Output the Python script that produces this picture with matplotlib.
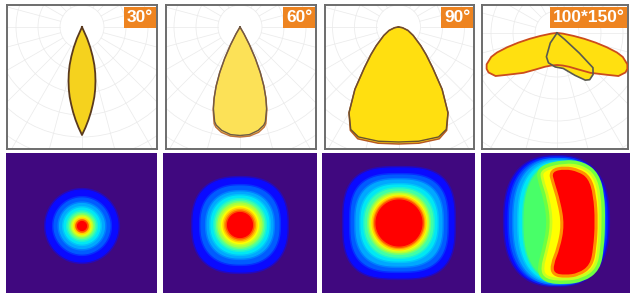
import numpy as np
import matplotlib
matplotlib.use("Agg")
import matplotlib.pyplot as plt
from matplotlib.patches import Circle, Polygon, PathPatch
from matplotlib.path import Path

plt.rcParams['font.family'] = ['Liberation Sans', 'DejaVu Sans']

beam_labels = ['30°', '60°', '90°', '100*150°']

# polar intensity curves: angle from nadir (deg) -> radius in drawing px
c1_angles = [0, 2, 4, 6, 8, 10, 12, 14, 16, 18, 20, 22, 24, 26]
c1_r = [108, 100.5, 93, 85.5, 78, 71, 63.5, 55.7, 48, 40, 31, 22, 12.5, 0]

c2_angles = [0, 5, 10, 13.6, 15, 18, 20, 22, 24, 26, 28, 30, 32]
c2_r_a = [110, 109.5, 107, 103, 100, 87, 76, 64, 50, 35, 20, 8, 0]
c2_r_b = [108.5, 108, 105, 101, 98, 86, 75.5, 63.5, 50, 35, 20, 8, 0]

c3_angles = [0, 10, 20, 25, 30, 35, 40, 45, 50, 60, 70, 80, 90]
c3_r_a = [117, 118, 119, 114, 99, 76, 53, 39, 29, 17, 10, 4, 0]
c3_r_b = [115, 116, 117, 113, 99, 76, 53, 39, 29, 17, 10, 4, 0]

c4_angles = [0, 10, 20, 30, 40, 50, 55, 60, 63, 66, 70, 72, 74, 76, 78, 80, 84, 88, 90]
c4_r_c0 = [32, 33, 36, 42, 52, 65, 75, 79, 79, 77, 70, 63, 52, 40, 28, 17, 6, 1, 0]
# C90 plane, signed angles (lobe leans to the right)
c4_angles_c90 = [-40, -34, -24, -16, -3, 10, 23, 31, 35, 41, 46, 48, 50, 52]
c4_r_c90 = [0, 12, 26, 31, 34, 36, 46, 55, 57, 55, 50, 30, 10, 0]

# illuminance bands, outer -> inner
band_colors = ['#0a0aff', '#005cff', '#00a8ff', '#00e8f4', '#40ffa8',
               '#a8ff40', '#ffff00', '#ff9a00', '#ff0000']
spot1_radii = [36, 28, 22.5, 18, 14, 11, 8.5, 6.5, 4.5]
spot2_radii = [47, 39, 33, 29, 25, 22, 18.5, 15.5, 12.5]
spot3_radii = [55, 48, 43, 38, 34, 30, 27.5, 25.5, 23]
spot1_square = [2.0, 2.0, 2.0, 2.0, 2.0, 2.0, 2.0, 2.0, 2.0]
spot2_square = [2.5, 2.4, 2.3, 2.2, 2.1, 2.0, 2.0, 2.0, 2.0]
spot3_square = [3.0, 2.9, 2.7, 2.5, 2.3, 2.2, 2.1, 2.0, 2.0]

# 100*150 spot: outer rings (left, right, top, bottom) and inner outlines
ring_colors = ['#0a0aff', '#005cff', '#00a8ff', '#00e8f4', '#48ff68']
ring_left = [-50, -45.5, -41, -36, -31]
ring_right = [53, 50.5, 48, 46.5, 45.5]
ring_top = [66, 64.5, 63, 61, 59]
ring_bottom = [-62, -61, -60, -58.5, -57]
yellow_outline = [(-11.7, 52), (10, 57.3), (26.7, 55.3), (38.3, 46.3), (43.3, 28),
                  (44, 1.3), (42.7, -25.3), (39.3, -43.7), (26.7, -52.7), (10, -55.3),
                  (-8.3, -53.7), (-11.7, -45.3), (-7, -28.7), (-1.5, -2), (-5, 24.7),
                  (-11.7, 44.7)]
red_outline = [(-3.3, 51.3), (10, 54), (23.3, 51.3), (33.3, 44.7), (38.3, 28),
               (40, 1.3), (38.3, -25.3), (35, -42), (23.3, -50.3), (10, -52),
               (-0.7, -50.3), (-1.7, -42), (5, -25.3), (9.5, -2), (5.5, 21.3),
               (-0.7, 41.3)]

W, H = 630, 293
fig = plt.figure(figsize=(W / 100, H / 100), dpi=100)
fig.patch.set_facecolor('white')


def px_axes(left, top, width, height):
    return fig.add_axes([left / W, 1 - (top + height) / H, width / W, height / H])


def lobe_xy(angles, radii, mirror=True):
    a = np.radians(angles)
    r = np.asarray(radii, float)
    if mirror:
        a = np.concatenate([-a[::-1], a[1:]])
        r = np.concatenate([r[::-1], r[1:]])
    return r * np.sin(a), -r * np.cos(a)


def blob(cx, cy, hx, hy, n, num=160):
    t = np.linspace(0, 2 * np.pi, num)
    c, s = np.cos(t), np.sin(t)
    x = cx + hx * np.sign(c) * np.abs(c) ** (2 / n)
    y = cy + hy * np.sign(s) * np.abs(s) ** (2 / n)
    return np.column_stack([x, y])


def smooth_patch(pts, **kw):
    pts = np.asarray(pts, float)
    mids = (pts + np.roll(pts, -1, axis=0)) / 2
    verts = [mids[-1]]
    codes = [Path.MOVETO]
    for p, m in zip(pts, mids):
        verts += [p, m]
        codes += [Path.CURVE3, Path.CURVE3]
    verts.append(mids[-1])
    codes.append(Path.CLOSEPOLY)
    return PathPatch(Path(verts, codes), **kw)


def soft_band(ax, verts, col):
    # soft outer rim, then the solid band
    ax.add_patch(Polygon(verts, closed=True, fc='none', ec=col, lw=3.0, alpha=0.45))
    ax.add_patch(Polygon(verts, closed=True, fc=col, ec=col, lw=0.8))


# ---- top row: polar diagrams ----
top_left = [7, 166, 325, 482]
top_width = [150, 150, 149, 146]
src_x = [82, 240, 398.5, 557]
src_y = [27, 27, 27, 33]
box_top, box_h = 5, 144

polar_axes = []
for i in range(4):
    ax = px_axes(top_left[i], box_top, top_width[i], box_h)
    ax.set_xlim(top_left[i] - src_x[i], top_left[i] + top_width[i] - src_x[i])
    ax.set_ylim(-(box_top + box_h - src_y[i]), src_y[i] - box_top)
    ax.set_xticks([])
    ax.set_yticks([])
    for sp in ax.spines.values():
        sp.set_color('#6c6c6c')
        sp.set_linewidth(1.4)
    for rad in range(22, 200, 22):
        ax.add_patch(Circle((0, 0), rad, fill=False, ec='#ebebeb', lw=0.55, zorder=1))
    for a in np.radians(np.arange(0, 360, 15)):
        ax.plot([22 * np.sin(a), 220 * np.sin(a)], [22 * np.cos(a), 220 * np.cos(a)],
                color='#ebebeb', lw=0.55, zorder=1)
    ax.annotate(beam_labels[i], xy=(1, 1), xycoords='axes fraction',
                xytext=(-2.6, -3.4), textcoords='offset points',
                ha='right', va='top', color='white', fontsize=12.5, fontweight='bold',
                bbox=dict(boxstyle='square,pad=0.16', fc='#ee8420', ec='none'), zorder=5)
    polar_axes.append(ax)


def closed_line(ax, x, y, color, lw):
    ax.plot(np.append(x, x[0]), np.append(y, y[0]), color=color, lw=lw, zorder=3)


ax = polar_axes[0]
x, y = lobe_xy(c1_angles, c1_r)
ax.fill(x, y, color='#f5d21e', zorder=2, lw=0)
closed_line(ax, x, y, '#5a3a1e', 1.3)

ax = polar_axes[1]
xa, ya = lobe_xy(c2_angles, c2_r_a)
xb, yb = lobe_xy(c2_angles, c2_r_b)
ax.fill(xa, ya, color='#fce157', zorder=2, lw=0)
closed_line(ax, xa, ya, '#c0703a', 1.0)
closed_line(ax, xb, yb, '#6e5a46', 1.0)

ax = polar_axes[2]
xa, ya = lobe_xy(c3_angles, c3_r_a)
xb, yb = lobe_xy(c3_angles, c3_r_b)
ax.fill(xa, ya, color='#ffdf10', zorder=2, lw=0)
closed_line(ax, xa, ya, '#b85a22', 1.1)
closed_line(ax, xb, yb, '#6a5030', 1.0)

ax = polar_axes[3]
xa, ya = lobe_xy(c4_angles, c4_r_c0)
xb, yb = lobe_xy(c4_angles_c90, c4_r_c90, mirror=False)
ax.fill(xa, ya, color='#ffe010', zorder=2, lw=0)
ax.fill(xb, yb, color='#ffe010', zorder=2, lw=0)
closed_line(ax, xa, ya, '#cc4c1c', 1.3)
closed_line(ax, xb, yb, '#5a5a50', 1.2)

# ---- bottom row: illuminance maps ----
bot_left = [6, 163, 322, 481]
bot_width = [151, 154, 153, 149]
spot_x = [82, 240, 399, 555]
spot_y = [226, 225, 223, 223]
bot_top, bot_h = 153, 140

heat_axes = []
for i in range(4):
    ax = px_axes(bot_left[i], bot_top, bot_width[i], bot_h)
    ax.set_xlim(bot_left[i] - spot_x[i], bot_left[i] + bot_width[i] - spot_x[i])
    ax.set_ylim(-(bot_top + bot_h - spot_y[i]), spot_y[i] - bot_top)
    ax.set_facecolor('#40087f')
    ax.set_xticks([])
    ax.set_yticks([])
    for sp in ax.spines.values():
        sp.set_visible(False)
    heat_axes.append(ax)

for ax, radii, square in zip(heat_axes[:3], [spot1_radii, spot2_radii, spot3_radii],
                             [spot1_square, spot2_square, spot3_square]):
    for rad, n, col in zip(radii, square, band_colors):
        soft_band(ax, blob(0, 0, rad, rad, n), col)

ax = heat_axes[3]
for col, l, r, t, b in zip(ring_colors, ring_left, ring_right, ring_top, ring_bottom):
    soft_band(ax, blob((l + r) / 2, (t + b) / 2, (r - l) / 2, (t - b) / 2, 2.5), col)
ax.add_patch(smooth_patch(yellow_outline, fc='#70ff40', ec='#70ff40', lw=9, joinstyle='round'))
ax.add_patch(smooth_patch(yellow_outline, fc='#c8ff20', ec='#c8ff20', lw=4, joinstyle='round'))
ax.add_patch(smooth_patch(yellow_outline, fc='#ffff00', ec='none'))
ax.add_patch(smooth_patch(red_outline, fc='#ff9000', ec='#ff9000', lw=4.5, joinstyle='round'))
ax.add_patch(smooth_patch(red_outline, fc='#ff0000', ec='none'))

fig.savefig('out.png', dpi=100)
